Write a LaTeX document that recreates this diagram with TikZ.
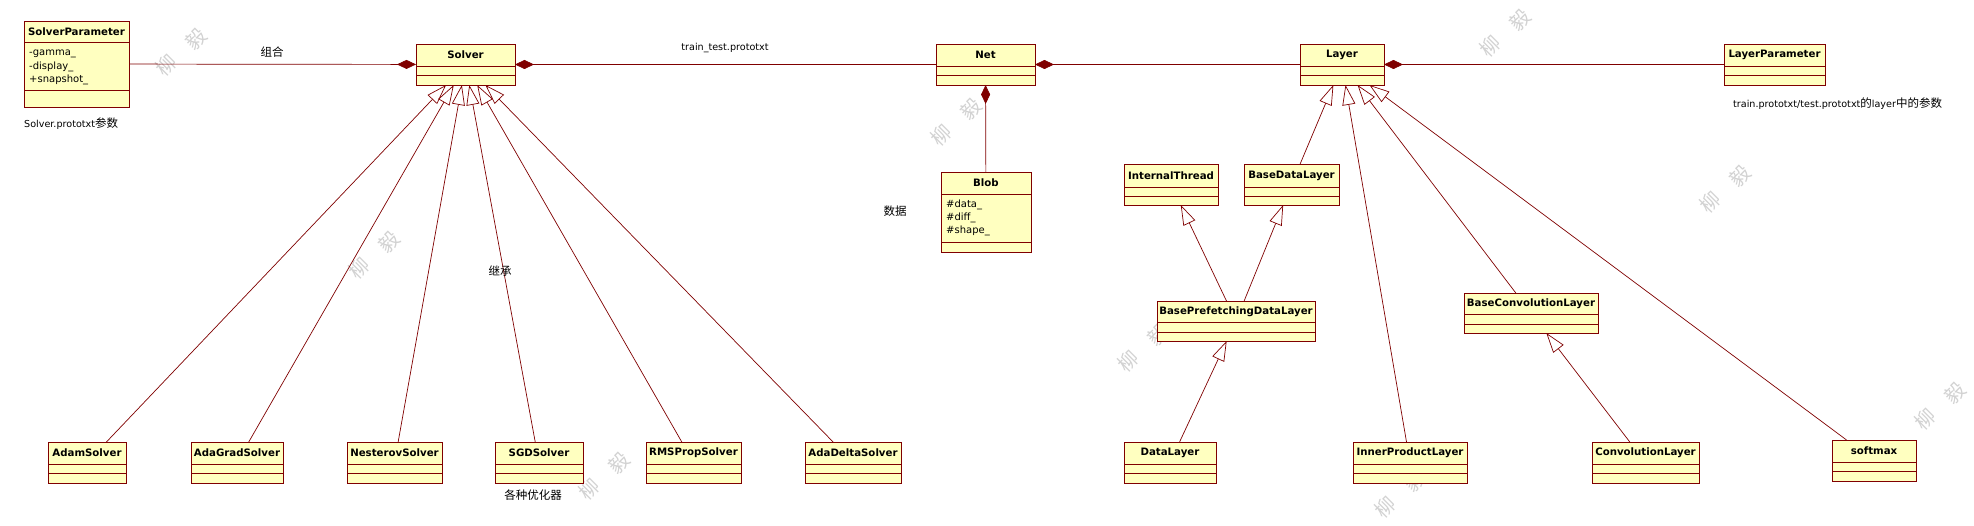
\documentclass[tikz,border=0pt]{standalone}
\usepackage{fontspec}
\setmainfont{DejaVu Sans}
\newfontfamily\cjkfont{Noto Sans CJK SC}
\usetikzlibrary{arrows.meta}
\definecolor{umlred}{HTML}{800000}
\definecolor{umlfill}{HTML}{FFFFC0}
\definecolor{wmgray}{HTML}{D2D2D2}
\newcommand{\zhtxt}[1]{{\cjkfont\fontsize{11.5}{13}\selectfont #1}}
% #1 name, #2 x1, #3 y1, #4 x2, #5 y2, #6 sep1, #7 sep2, #8 title
\newcommand{\umlclass}[8]{%
  \node[clsbox, anchor=north west, minimum width={(#4-#2)*1pt}, minimum height={(#5-#3)*1pt}] (#1) at (#2,#3) {};
  \draw[clsline] (#2,#6) -- (#4,#6);
  \draw[clsline] (#2,#7) -- (#4,#7);
  \node[clstitle] (#1-t) at ({(#2+#4)/2},{(#3+#6)/2}) {#8};
}
% watermark: #1 name, #2 x, #3 y (centre)
\newcommand{\wmark}[3]{%
  \node[wm] (#1-a) at ({#2-15},{#3+13}) {柳};
  \node[wm] (#1-b) at ({#2+15},{#3-13}) {毅};
}
\begin{document}
\begin{tikzpicture}[x=1pt,y=-1pt,
  clsbox/.style={draw=umlred, fill=umlfill, line width=0.9pt, inner sep=0pt, outer sep=0pt, rectangle},
  clsline/.style={draw=umlred, line width=0.9pt},
  clstitle/.style={font=\bfseries\fontsize{10.2}{12}\selectfont, inner sep=0pt, text=black},
  attr/.style={font=\fontsize{10}{12}\selectfont, anchor=west, inner sep=0pt},
  lbl/.style={font=\fontsize{9.6}{11}\selectfont, inner sep=0pt},
  zh/.style={font=\cjkfont\fontsize{11.5}{13}\selectfont, inner sep=0pt},
  conn/.style={draw=umlred, line width=0.7pt},
  comp/.style={conn, -{Diamond[length=19pt,width=9pt,fill=umlred]}},
  gen/.style={conn, -{Triangle[open,length=20pt,width=13pt]}},
  wm/.style={font=\cjkfont\fontsize{20}{20}\selectfont, text=wmgray, rotate=45, inner sep=0pt}
]
\fill[white] (0,0) rectangle (1974,526);
\useasboundingbox (0,0) rectangle (1974,526);

% watermarks
\wmark{wm1}{181}{52}
\wmark{wm2}{956}{122}
\wmark{wm3}{374}{255}
\wmark{wm4}{604}{476}
\wmark{wm5}{1143}{348}
\wmark{wm6}{1725}{189}
\wmark{wm7}{1505}{33}
\wmark{wm8}{1940}{406}
\wmark{wm9}{1400}{494}

% classes
\umlclass{sp}{24}{21}{129}{107}{42}{90}{SolverParameter}
\umlclass{solver}{416}{44}{515}{85}{66}{75}{Solver}
\umlclass{net}{936}{44}{1035}{85}{66}{75}{Net}
\umlclass{layer}{1300}{44}{1384}{85}{66}{75}{Layer}
\umlclass{lp}{1724}{44}{1825}{85}{66}{75}{LayerParameter}
\umlclass{blob}{941}{172}{1031}{252}{194}{242}{Blob}
\umlclass{it}{1124}{164}{1218}{205}{187}{196}{InternalThread}
\umlclass{bdl}{1244}{164}{1339}{205}{187}{196}{BaseDataLayer}
\umlclass{bpdl}{1157}{301}{1315}{341}{322}{332}{BasePrefetchingDataLayer}
\umlclass{bcl}{1464}{293}{1598}{333}{314}{324}{BaseConvolutionLayer}
\umlclass{adam}{48}{442}{126}{483}{464}{473}{AdamSolver}
\umlclass{adagrad}{191}{442}{283}{483}{464}{473}{AdaGradSolver}
\umlclass{nesterov}{347}{442}{442}{483}{464}{473}{NesterovSolver}
\umlclass{sgd}{495}{442}{583}{483}{464}{473}{SGDSolver}
\umlclass{rms}{646}{442}{741}{483}{464}{473}{RMSPropSolver}
\umlclass{adadelta}{805}{442}{901}{483}{464}{473}{AdaDeltaSolver}
\umlclass{data}{1124}{442}{1216}{483}{464}{473}{DataLayer}
\umlclass{ip}{1353}{442}{1467}{483}{464}{473}{InnerProductLayer}
\umlclass{conv}{1592}{442}{1699}{483}{464}{473}{ConvolutionLayer}
\umlclass{softmax}{1832}{440}{1916}{481}{462}{471}{softmax}

% attributes
\node[attr] (sp-a1) at (29,54) {-gamma\_};
\node[attr] (sp-a2) at (29,67) {-display\_};
\node[attr] (sp-a3) at (29,80) {+snapshot\_};
\node[attr] (blob-a1) at (946,205) {\#data\_};
\node[attr] (blob-a2) at (946,218) {\#diff\_};
\node[attr] (blob-a3) at (946,231) {\#shape\_};

% compositions
\draw[comp] (sp) -- (solver);
\draw[comp] (net) -- (solver);
\draw[comp] (layer) -- (net);
\draw[comp] (lp) -- (layer);
\draw[comp] (blob) -- (net);

% generalizations
\draw[gen] (adam) -- (solver);
\draw[gen] (adagrad) -- (solver);
\draw[gen] (nesterov) -- (solver);
\draw[gen] (sgd) -- (solver);
\draw[gen] (rms) -- (solver);
\draw[gen] (adadelta) -- (solver);
\draw[gen] (bdl) -- (layer);
\draw[gen] (ip) -- (layer);
\draw[gen] (bcl) -- (layer);
\draw[gen] (softmax) -- (layer);
\draw[gen] (bpdl) -- (it);
\draw[gen] (bpdl) -- (bdl);
\draw[gen] (data) -- (bpdl);
\draw[gen] (conv) -- (bcl);

% labels
\node[zh] (l-zuhe) at (272,52) {组合};
\node[lbl] (l-tt) at (725,48) {train\_test.prototxt};
\node[lbl, anchor=west] (l-spnote) at (24,124) {Solver.prototxt\zhtxt{参数}};
\node[zh] (l-data) at (895,211) {数据};
\node[zh] (l-jicheng) at (500,271) {继承};
\node[zh] (l-opt) at (533,495) {各种优化器};
\node[lbl, anchor=west] (l-lpnote) at (1733,104) {train.prototxt/test.prototxt\zhtxt{的}layer\zhtxt{中的参数}};
\end{tikzpicture}
\end{document}
